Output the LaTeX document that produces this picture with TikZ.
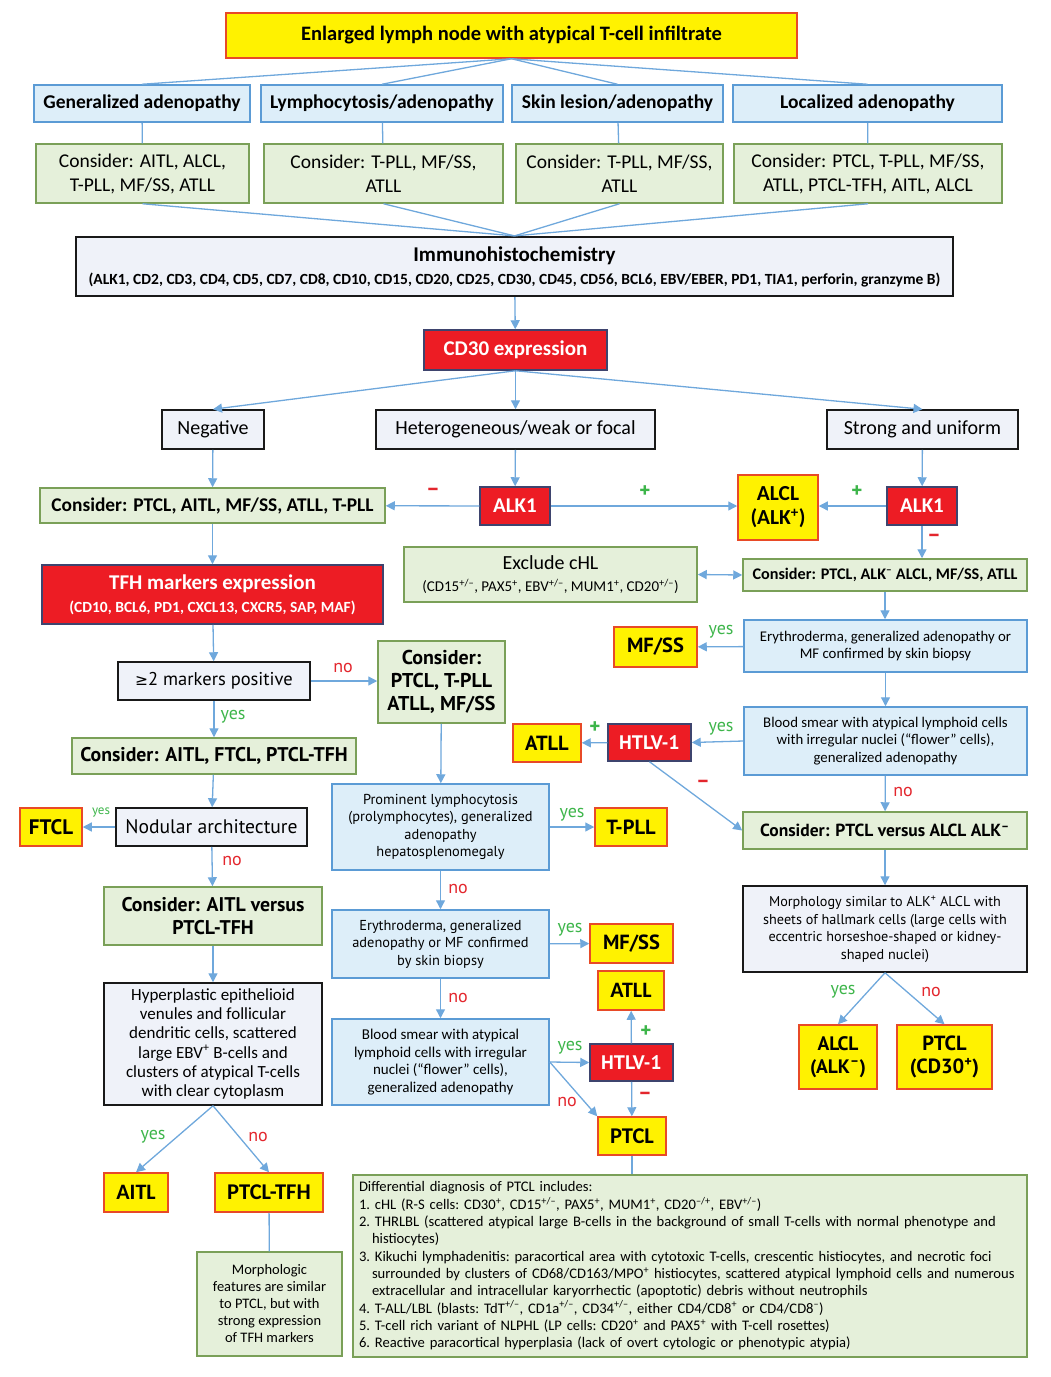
\documentclass[tikz,border=0pt]{standalone}
\usepackage{fontspec}
\setmainfont{PT Sans}
\newfontfamily\condfont{Carlito}
\newfontfamily\symfont{DejaVu Sans}
\usetikzlibrary{arrows.meta}
\definecolor{yfill}{RGB}{255,242,0}
\definecolor{ybord}{RGB}{232,74,39}
\definecolor{rfill}{RGB}{237,28,36}
\definecolor{rbord}{RGB}{62,68,110}
\definecolor{bfill}{RGB}{221,238,249}
\definecolor{bbord}{RGB}{91,155,213}
\definecolor{gfill}{RGB}{229,240,218}
\definecolor{gbord}{RGB}{122,160,88}
\definecolor{lfill}{RGB}{239,242,249}
\definecolor{lbord}{RGB}{25,25,25}
\definecolor{arrcol}{RGB}{111,168,220}
\definecolor{ycol}{RGB}{61,181,74}
\definecolor{ncol}{RGB}{227,38,45}
\newcommand{\fsize}[2]{\fontsize{#1}{#2}\selectfont}
\newcommand{\sups}[1]{\textsuperscript{#1}}
\tikzset{
  box/.style = {rectangle, line width=1.5pt, inner sep=1pt, align=center, text=black},
  sz/.style 2 args = {minimum width=#1pt, minimum height=#2pt},
  ybox/.style = {box, draw=ybord, fill=yfill, font=\bfseries\fsize{20.5}{23}},
  rbox/.style = {box, draw=rbord, fill=rfill, text=white, font=\condfont\bfseries\fsize{21}{23}},
  bbox/.style = {box, draw=bbord, fill=bfill, font=\fsize{14.4}{17.5}},
  gbox/.style = {box, draw=gbord, fill=gfill},
  lbox/.style = {box, draw=lbord, fill=lfill},
  arr/.style = {draw=arrcol, line width=1.3pt, -{Triangle[length=9pt, width=9pt]}},
  link/.style = {draw=arrcol, line width=1.3pt},
  ylab/.style = {text=ycol, font=\fsize{18}{20}, inner sep=0pt},
  nlab/.style = {text=ncol, font=\fsize{18}{20}, inner sep=0pt},
  sign/.style = {inner sep=0pt, font=\bfseries\fsize{21}{22}},
}

\begin{document}
\begin{tikzpicture}[x=1pt, y=-1pt]
  \useasboundingbox (0,0) rectangle (1051,1377);

  % top and presentation
  \node [ybox, sz={571}{45}, font=\condfont\bfseries\fsize{20.5}{23}] (top) at (511.5,35.5)
    {Enlarged lymph node with atypical T-cell infiltrate};
  \node [bbox, sz={216}{37}, font=\condfont\bfseries\fsize{19.5}{22}] (gen) at (142,103.5) {Generalized adenopathy};
  \node [bbox, sz={242}{37}, font=\condfont\bfseries\fsize{19.5}{22}] (lym) at (382,103.5) {Lymphocytosis/adenopathy};
  \node [bbox, sz={211}{37}, font=\condfont\bfseries\fsize{19.5}{22}] (skin) at (617.5,103.5) {Skin lesion/adenopathy};
  \node [bbox, sz={269}{37}, font=\condfont\bfseries\fsize{19.5}{22}] (loc) at (867.5,103.5) {Localized adenopathy};
  \node [gbox, sz={213}{59}, font=\condfont\fsize{19.5}{24}] (cgen) at (142.5,173.5) {Consider: AITL, ALCL,\\T-PLL, MF/SS, ATLL};
  \node [gbox, sz={239}{59}, font=\condfont\fsize{19.5}{24}] (clym) at (383.5,173.5) {Consider: T-PLL, MF/SS,\\ATLL};
  \node [gbox, sz={207}{59}, font=\condfont\fsize{19.5}{24}] (cskin) at (619.5,173.5) {Consider: T-PLL, MF/SS,\\ATLL};
  \node [gbox, sz={268}{59}, font=\condfont\fsize{19.5}{24}] (cloc) at (868,173.5) {Consider: PTCL, T-PLL, MF/SS,\\ATLL, PTCL-TFH, AITL, ALCL};
  \node [lbox, sz={877}{59}, line width=2.2pt, font=\condfont\bfseries\fsize{21}{22}] (ihc) at (514.5,266.5)
    {Immunohistochemistry\\[1pt]{\fsize{15.5}{17}(ALK1, CD2, CD3, CD4, CD5, CD7, CD8, CD10, CD15, CD20, CD25, CD30, CD45, CD56, BCL6, EBV/EBER, PD1, TIA1, perforin, granzyme B)}};

  % CD30
  \node [rbox, sz={183}{40}] (cd30) at (515.5,350) {CD30 expression};
  \node [lbox, sz={102}{39}, font=\condfont\fsize{20}{22}] (neg) at (213,429.5) {Negative};
  \node [lbox, sz={279}{39}, font=\condfont\fsize{20}{22}] (het) at (515.5,429.5) {Heterogeneous/weak or focal};
  \node [lbox, sz={191}{39}, font=\condfont\fsize{20}{22}] (str) at (922.5,429.5) {Strong and uniform};
  \node [gbox, sz={345}{35}, font=\condfont\bfseries\fsize{19.4}{22}] (cneg) at (212.5,505.5) {Consider: PTCL, AITL, MF/SS, ATLL, T-PLL};
  \node [rbox, sz={70}{38}] (alka) at (515,506) {ALK1};
  \node [ybox, sz={80}{65}, font=\condfont\bfseries\fsize{21.4}{24}] (alclp) at (778,507.5) {ALCL\\(ALK\sups{+})};
  \node [rbox, sz={70}{38}] (alkb) at (922,506) {ALK1};
  \node [gbox, sz={293}{55}, font=\condfont\fsize{20}{22}] (excl) at (550.5,574.5)
    {Exclude cHL\\{\fsize{15}{17}(CD15\sups{+/–}, PAX5\sups{+}, EBV\sups{+/–}, MUM1\sups{+}, CD20\sups{+/–})}};
  \node [gbox, sz={284}{32}, font=\condfont\bfseries\fsize{16.2}{18}] (calk) at (885,575) {Consider: PTCL, ALK\sups{–} ALCL, MF/SS, ATLL};

  % left column
  \node [rbox, sz={341}{59}] (tfh) at (212.5,594.5)
    {TFH markers expression\\{\fsize{15.5}{17}(CD10, BCL6, PD1, CXCL13, CXCR5, SAP, MAF)}};
  \node [lbox, sz={192}{38}, font=\fsize{18.5}{22}] (two) at (214,681) {{\symfont\fsize{15.5}{22}≥}2 markers positive};
  \node [gbox, sz={127}{82}, font=\bfseries\fsize{20}{23}] (cnot) at (441.5,682) {Consider:\\PTCL, T-PLL\\ATLL, MF/SS};
  \node [gbox, sz={284}{36}, font=\bfseries\fsize{19.8}{22}] (ctfh) at (214,756) {Consider: AITL, FTCL, PTCL-TFH};
  \node [lbox, sz={191}{38}, font=\fsize{19.6}{22}] (nod) at (211.5,827) {Nodular architecture};
  \node [ybox, sz={62}{38}, font=\bfseries\fsize{21}{23}] (ftcl) at (51,827) {FTCL};
  \node [gbox, sz={218}{58}, font=\bfseries\fsize{19.8}{23}] (cvs) at (213,916) {Consider: AITL versus\\PTCL-TFH};
  \node [lbox, sz={218}{122}, font=\condfont\fsize{17}{19.3}] (hyp) at (213,1044)
    {Hyperplastic epithelioid\\venules and follicular\\dendritic cells, scattered\\large EBV\sups{+} B-cells and\\clusters of atypical T-cells\\with clear cytoplasm};
  \node [ybox, sz={64}{39}, font=\condfont\bfseries\fsize{22}{24}] (aitl) at (136,1192.5) {AITL};
  \node [ybox, sz={108}{39}, font=\condfont\bfseries\fsize{22.5}{24}] (ptfh) at (269,1192.5) {PTCL-TFH};
  \node [gbox, sz={145}{104}, font=\condfont\fsize{14.5}{17}] (morph) at (269.5,1304)
    {Morphologic\\features are similar\\to PTCL, but with\\strong expression\\of TFH markers};

  % middle column
  \node [bbox, sz={217}{86}] (prom) at (440.5,827)
    {Prominent lymphocytosis\\(prolymphocytes), generalized\\adenopathy\\hepatosplenomegaly};
  \node [ybox, sz={72}{38}] (tpll) at (631,827) {T-PLL};
  \node [bbox, sz={217}{68}] (erym) at (440.5,944)
    {Erythroderma, generalized\\adenopathy or MF confirmed\\by skin biopsy};
  \node [ybox, sz={83}{39}] (mfssm) at (631.5,943.5) {MF/SS};
  \node [bbox, sz={217}{86}, font=\condfont\fsize{15}{17.5}] (bloodm) at (440.5,1062)
    {Blood smear with atypical\\lymphoid cells with irregular\\nuclei (“flower” cells),\\generalized adenopathy};
  \node [ybox, sz={66}{39}, font=\condfont\bfseries\fsize{22}{24}] (atllm) at (631,990.5) {ATLL};
  \node [rbox, sz={83}{37}, font=\bfseries\fsize{19.6}{22}] (htlvm) at (631.5,1062.5) {HTLV-1};
  \node [ybox, sz={68}{38}, font=\condfont\bfseries\fsize{22.5}{24}] (ptclm) at (632,1136) {PTCL};
  \node [gbox, sz={674}{182}, text width=662pt, inner xsep=6pt, align=left, font=\condfont\frenchspacing\fsize{14.6}{17.3}] (diff) at (690,1266)
    {Differential diagnosis of PTCL includes:\\
     1. cHL (R-S cells: CD30\sups{+}, CD15\sups{+/–}, PAX5\sups{+}, MUM1\sups{+}, CD20\sups{–/+}, EBV\sups{+/–})\\
     2. THRLBL (scattered atypical large B-cells in the background of small T-cells with normal phenotype and\\
     \hspace*{13pt}histiocytes)\\
     3. Kikuchi lymphadenitis: paracortical area with cytotoxic T-cells, crescentic histiocytes, and necrotic foci\\
     \hspace*{13pt}surrounded by clusters of CD68/CD163/MPO\sups{+} histiocytes, scattered atypical lymphoid cells and numerous\\
     \hspace*{13pt}extracellular and intracellular karyorrhectic (apoptotic) debris without neutrophils\\
     4. T-ALL/LBL (blasts: TdT\sups{+/–}, CD1a\sups{+/–}, CD34\sups{+/–}, either CD4/CD8\sups{+} or CD4/CD8\sups{–})\\
     5. T-cell rich variant of NLPHL (LP cells: CD20\sups{+} and PAX5\sups{+} with T-cell rosettes)\\
     6. Reactive paracortical hyperplasia (lack of overt cytologic or phenotypic atypia)};

  % right column
  \node [bbox, sz={283}{52}, font=\condfont\fsize{14.8}{17.5}] (eryr) at (885.5,646)
    {Erythroderma, generalized adenopathy or\\MF confirmed by skin biopsy};
  \node [ybox, sz={83}{40}] (mfssr) at (655.5,647) {MF/SS};
  \node [bbox, sz={283}{68}, font=\condfont\fsize{14.8}{17.5}] (bloodr) at (885.5,741)
    {Blood smear with atypical lymphoid cells\\with irregular nuclei (“flower” cells),\\generalized adenopathy};
  \node [rbox, sz={83}{37}, font=\bfseries\fsize{19.6}{22}] (htlvr) at (649.5,742.5) {HTLV-1};
  \node [ybox, sz={68}{38}] (atllr) at (547,743) {ATLL};
  \node [gbox, sz={284}{37}, font=\bfseries\fsize{17.5}{22}] (cvsr) at (885,830.5) {Consider: PTCL versus ALCL ALK\sups{–}};
  \node [lbox, sz={284}{86}, font=\fsize{14.2}{17.5}] (morr) at (885,929)
    {Morphology similar to ALK\sups{+} ALCL with\\sheets of hallmark cells (large cells with\\eccentric horseshoe-shaped or kidney-\\shaped nuclei)};
  \node [ybox, sz={78}{64}, font=\bfseries\fsize{19.5}{23}] (alcln) at (838,1057) {ALCL\\(ALK\sups{–})};
  \node [ybox, sz={95}{64}] (ptclc) at (944.5,1057) {PTCL\\(CD30\sups{+})};

  % connectors
  \foreach \n in {gen, lym, skin, loc}
    \draw [link] (top.south) -- (\n.north);
  \draw [link] (gen) -- (cgen);
  \draw [link] (lym) -- (clym);
  \draw [link] (skin) -- (cskin);
  \draw [link] (loc) -- (cloc);
  \foreach \n in {cgen, clym, cskin, cloc}
    \draw [link] (\n.south) -- (ihc.north);
  \draw [arr] (ihc) -- (cd30);
  \foreach \n in {neg, het, str}
    \draw [arr] (cd30.south) -- (\n.north);
  \draw [arr] (neg) -- (cneg);
  \draw [arr] (het) -- (alka);
  \draw [arr] (alka) -- (cneg);
  \draw [arr] (alka.east) -- (alclp.west |- alka.east);
  \draw [arr] (str) -- (alkb);
  \draw [arr] (alkb.west) -- (alclp.east |- alkb.west);
  \draw [arr] (alkb.south) -- (calk.north -| alkb.south);
  \draw [arr, {Triangle[length=9pt, width=9pt]}-{Triangle[length=9pt, width=9pt]}] (excl.east) -- (calk.west);
  \draw [arr] (cneg) -- (tfh);
  \draw [arr] (tfh) -- (two);
  \draw [arr] (two.east) -- (cnot.west |- two.east);
  \draw [arr] (two) -- (ctfh);
  \draw [arr] (ctfh) -- (nod);
  \draw [arr] (nod) -- (ftcl);
  \draw [arr] (nod) -- (cvs);
  \draw [arr] (cvs) -- (hyp);
  \draw [arr] (hyp.south) -- (aitl.north);
  \draw [arr] (hyp.south) -- (ptfh.north);
  \draw [link] (ptfh) -- (morph);
  \draw [arr] (cnot) -- (prom);
  \draw [arr] (prom) -- (tpll);
  \draw [arr] (prom) -- (erym);
  \draw [arr] (erym) -- (mfssm);
  \draw [arr] (erym) -- (bloodm);
  \draw [arr] (bloodm.east) -- (htlvm.west);
  \draw [arr] (bloodm.east) -- (ptclm.north west);
  \draw [arr] (htlvm) -- (atllm);
  \draw [arr] (htlvm) -- (ptclm);
  \draw [link] (ptclm.south) -- (diff.north -| ptclm.south);
  \draw [arr] (calk.south) -- (eryr.north -| calk.south);
  \draw [arr] (eryr) -- (mfssr);
  \draw [arr] (eryr) -- (bloodr);
  \draw [arr] (bloodr.west) -- (htlvr.east);
  \draw [arr] (htlvr) -- (atllr);
  \draw [arr] (htlvr.south) -- (cvsr.west);
  \draw [arr] (bloodr) -- (cvsr);
  \draw [arr] (cvsr) -- (morr);
  \draw [arr] (morr.south) -- (alcln.north);
  \draw [arr] (morr.south) -- (ptclc.north);

  % branch labels
  \node [sign, text=ncol] (lmina) at (433,492) {–};
  \node [sign, text=ycol] (lplusa) at (645,492) {+};
  \node [sign, text=ycol] (lplusb) at (857,492) {+};
  \node [sign, text=ncol] (lminb) at (934,538) {–};
  \node [nlab] (lnotwo) at (343,668) {no};
  \node [ylab] (lyestwo) at (233,717) {yes};
  \node [ylab, font=\fsize{13}{15}] (lyesnod) at (101,812) {yes};
  \node [nlab] (lnonod) at (232,861) {no};
  \node [ylab] (lyeshyp) at (153,1137) {yes};
  \node [nlab] (lnohyp) at (258,1137) {no};
  \node [ylab] (lyesprom) at (572,815) {yes};
  \node [nlab] (lnoprom) at (458,889) {no};
  \node [ylab] (lyeserym) at (570,930) {yes};
  \node [nlab] (lnoerym) at (458,998) {no};
  \node [ylab] (lyesbloodm) at (570,1048) {yes};
  \node [sign, text=ycol] (lplusm) at (646,1032) {+};
  \node [sign, text=ncol] (lminm) at (645,1096) {–};
  \node [nlab] (lnobloodm) at (567,1102) {no};
  \node [ylab] (lyeseryr) at (721,632) {yes};
  \node [ylab] (lyesbloodr) at (721,729) {yes};
  \node [sign, text=ycol] (lplusr) at (595,728) {+};
  \node [sign, text=ncol] (lminr) at (703,784) {–};
  \node [nlab] (lnobloodr) at (903,792) {no};
  \node [ylab] (lyesmorr) at (843,992) {yes};
  \node [nlab] (lnomorr) at (931,992) {no};
\end{tikzpicture}
\end{document}
